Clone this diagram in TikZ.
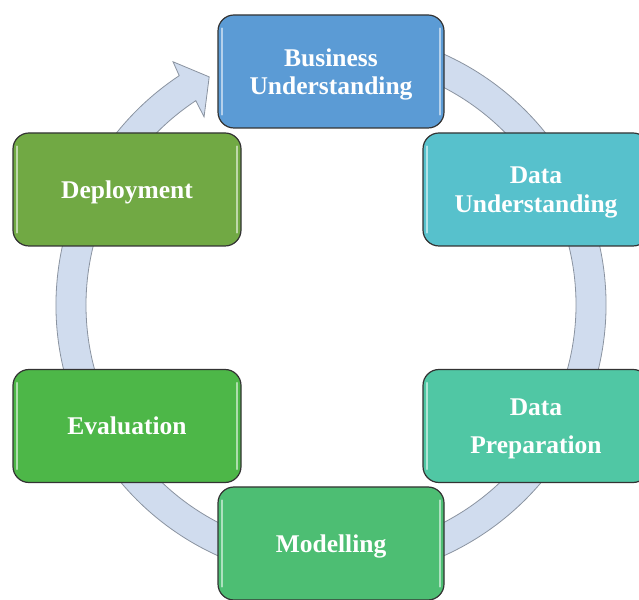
\documentclass[tikz,border=0pt]{standalone}
\usepackage{fontspec}
\setmainfont{Liberation Serif}
\definecolor{cBU}{HTML}{5B9BD5}
\definecolor{cDU}{HTML}{57C1CC}
\definecolor{cDP}{HTML}{50C7A4}
\definecolor{cMO}{HTML}{4DBE73}
\definecolor{cEV}{HTML}{4DB748}
\definecolor{cDE}{HTML}{71A944}
\definecolor{ringfill}{HTML}{D0DCEE}
\definecolor{ringline}{HTML}{8A93A0}
\begin{document}
\begin{tikzpicture}[x=1pt,y=1pt,
  ring/.style={fill=ringfill, draw=ringline, line width=0.8pt, line join=miter},
  box/.style={rounded corners=16pt, draw=black!80, line width=1.2pt,
    minimum width=226pt, minimum height=113pt, text=white, align=center,
    text depth=0pt, font=\bfseries\fontsize{25.5}{28.5}\selectfont},
  hl/.style={white, opacity=0.55, line width=2pt, line cap=round}]
\useasboundingbox (0,0) rectangle (639,599);
\clip (0,0) rectangle (639,599);

% circular arrow behind the boxes
\begin{scope}[shift={(331,294)}]
  \draw[ring] (80:275) arc[start angle=80, end angle=-236.5, radius=275]
    -- (-237:290) -- (-241.9:258.6) -- (-236:227) -- (-236.5:245)
    arc[start angle=-236.5, end angle=80, radius=245] -- cycle;
\end{scope}

% process steps
\node[box, fill=cBU] (bu) at (331,527.5) {Business\\Understanding};
\node[box, fill=cDU] (du) at (536,409.5) {Data\\Understanding};
\node[box, fill=cDP] (dp) at (536,173) {Data\\[9pt]Preparation};
\node[box, fill=cMO] (mo) at (331,55.5) {Modelling};
\node[box, fill=cEV, minimum width=228pt] (ev) at (127,173) {Evaluation};
\node[box, fill=cDE, minimum width=228pt] (de) at (127,409.5) {Deployment};

% glossy edge highlights
\foreach \n in {bu,du,dp,mo,ev,de} {
  \draw[hl] ([xshift=5pt,yshift=-14pt]\n.north west) -- ([xshift=5pt,yshift=14pt]\n.south west);
  \draw[hl] ([xshift=-5pt,yshift=-14pt]\n.north east) -- ([xshift=-5pt,yshift=14pt]\n.south east);
}
\end{tikzpicture}
\end{document}
